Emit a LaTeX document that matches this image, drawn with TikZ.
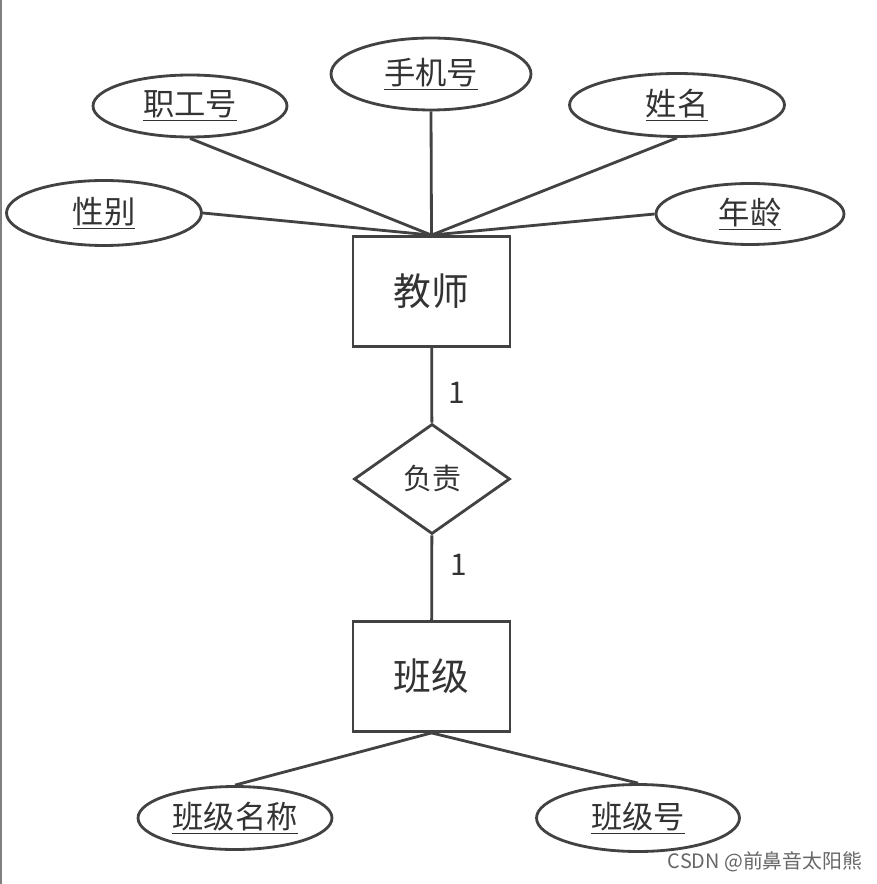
\documentclass[tikz,border=0pt]{standalone}
\usepackage{fontspec}
\setmainfont{Noto Sans CJK SC}
\usepackage{tikz}
\usetikzlibrary{shapes.geometric}
\definecolor{erline}{HTML}{424242}
\definecolor{ertext}{HTML}{333333}

\begin{document}
\begin{tikzpicture}[x=0.02cm, y=-0.02cm, line width=1.6pt, draw=erline,
  entity/.style={draw=erline, rectangle, minimum width=3.14cm, minimum height=2.2cm, inner sep=0pt, text=ertext, font=\fontsize{21.5}{25}\selectfont},
  attr/.style={draw=erline, ellipse, inner sep=0pt, text=ertext, font=\fontsize{17.8}{21}\selectfont},
  relation/.style={draw=erline, diamond, aspect=1.42, minimum width=3.12cm, minimum height=2.2cm, inner sep=0pt, text=ertext, font=\fontsize{16.5}{20}\selectfont},
  card/.style={text=ertext, font=\fontsize{17}{20}\selectfont}]
 \useasboundingbox[fill=white] (0,0) rectangle (876,884);
 \draw[gray, line width=0.8pt] (1,0) -- (1,884);

 \draw (431.5, 291.5) node[entity] (Lehrer) {教师};
 \draw (432, 479) node[relation] (Verant) {负责};
 \draw (431.5, 676.5) node[entity] (Klasse) {班级};

 \draw (431, 74) node[attr, minimum width=4.0cm, minimum height=1.44cm] (Handy) {\underline{手机号}};
 \draw (190, 106) node[attr, minimum width=3.88cm, minimum height=1.24cm] (PersNr) {\underline{职工号}};
 \draw (677, 105) node[attr, minimum width=4.3cm, minimum height=1.26cm] (Name) {\underline{姓名}};
 \draw (104, 213) node[attr, minimum width=3.9cm, minimum height=1.3cm] (Geschl) {\underline{性别}};
 \draw (750, 214) node[attr, minimum width=3.76cm, minimum height=1.22cm] (Alter) {\underline{年龄}};
 \draw (235, 818) node[attr, minimum width=3.88cm, minimum height=1.26cm] (KlName) {\underline{班级名称}};
 \draw (638, 818) node[attr, minimum width=4.06cm, minimum height=1.34cm] (KlNr) {\underline{班级号}};

 \draw (457, 393) node[card] (c1) {1};
 \draw (459, 565) node[card] (c2) {1};

 \draw (Lehrer.north) -- (Handy.south);
 \draw (Lehrer.north) -- (PersNr.south);
 \draw (Lehrer.north) -- (Name.south);
 \draw (Lehrer.north) -- (Geschl.east);
 \draw (Lehrer.north) -- (Alter.west);
 \draw (Lehrer) -- (Verant);
 \draw (Verant) -- (Klasse);
 \draw (Klasse.south) -- (KlName.north);
 \draw (Klasse.south) -- (KlNr.north);

 \draw (765, 862) node[text=black!60, font=\fontsize{11.3}{13}\selectfont] (wm) {CSDN @前鼻音太阳熊};
\end{tikzpicture}
\end{document}
